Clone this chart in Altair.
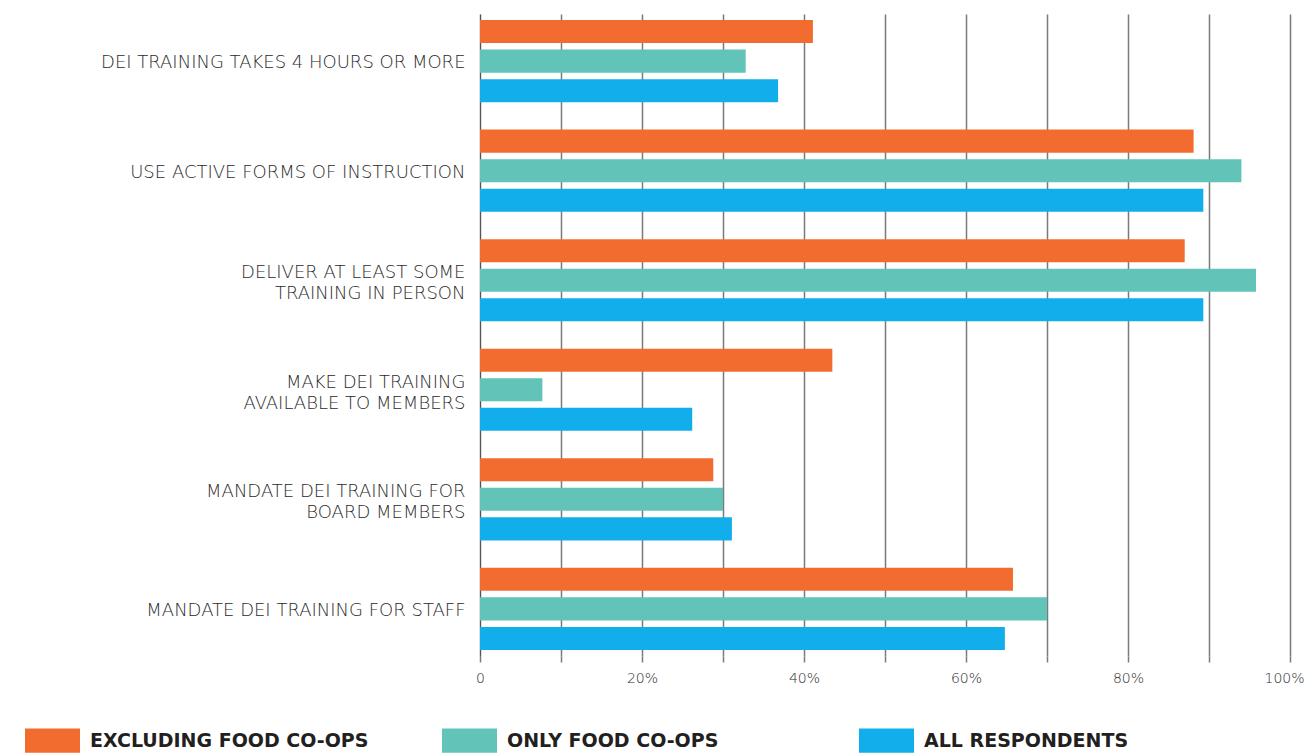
import altair as alt
import pandas as pd

categories = [
    "DEI TRAINING TAKES 4 HOURS OR MORE",
    "USE ACTIVE FORMS OF INSTRUCTION",
    "DELIVER AT LEAST SOME|TRAINING IN PERSON",
    "MAKE DEI TRAINING|AVAILABLE TO MEMBERS",
    "MANDATE DEI TRAINING FOR|BOARD MEMBERS",
    "MANDATE DEI TRAINING FOR STAFF",
]
series = ["EXCLUDING FOOD CO-OPS", "ONLY FOOD CO-OPS", "ALL RESPONDENTS"]
excluding_food = [41.1, 88.1, 87.0, 43.5, 28.8, 65.8]
only_food = [32.8, 94.0, 95.8, 7.7, 30.0, 70.0]
all_resp = [36.8, 89.3, 89.3, 26.2, 31.1, 64.8]
colors = ["#F26C30", "#62C3B9", "#12AEEC"]
x_ticks = [0, 10, 20, 30, 40, 50, 60, 70, 80, 90, 100]

rows = []
for s, vals in zip(series, [excluding_food, only_food, all_resp]):
    for c, v in zip(categories, vals):
        rows.append({"category": c, "series": s, "value": v})
df = pd.DataFrame(rows)

rect_path = "M-1,-0.44H1V0.44H-1Z"

chart = alt.Chart(df).mark_bar().encode(
    y=alt.Y(
        "category:N",
        sort=categories,
        title=None,
        scale=alt.Scale(paddingInner=0.25, paddingOuter=0.055),
        axis=alt.Axis(
            labelExpr="split(datum.label, '|')",
            labelOffset={"condition": {"test": "indexof(datum.value, '|') >= 0", "value": -7}, "value": 2},
            ticks=False,
            domain=True,
            domainColor="#555555",
            domainWidth=1,
            labelPadding=15,
            labelFont="DejaVu Sans",
            labelFontSize=18,
            labelFontWeight=300,
            labelColor="#2a2a2a",
            labelLineHeight=21,
            labelLimit=470,
        ),
    ),
    yOffset=alt.YOffset(
        "series:N",
        sort=series,
        scale=alt.Scale(paddingInner=0.22, paddingOuter=0),
    ),
    x=alt.X(
        "value:Q",
        title=None,
        scale=alt.Scale(domain=[0, 100], nice=False),
        axis=alt.Axis(
            values=x_ticks,
            labelExpr="datum.value % 20 == 0 ? (datum.value == 0 ? '0' : datum.value + '%') : ''",
            labelOffset={"condition": {"test": "datum.value == 100", "value": -6}, "value": 0},
            grid=True,
            gridColor="#7a7a7a",
            gridWidth=1.5,
            domain=False,
            ticks=True,
            tickSize=6,
            tickColor="#7a7a7a",
            tickWidth=1.5,
            labelPadding=9,
            labelFont="DejaVu Sans",
            labelFontSize=14,
            labelFontWeight=300,
            labelColor="#2a2a2a",
            labelFlush=False,
        ),
    ),
    color=alt.Color(
        "series:N",
        sort=series,
        scale=alt.Scale(domain=series, range=colors),
        legend=alt.Legend(
            title=None,
            orient="none",
            direction="horizontal",
            legendX=-455,
            legendY=699,
            symbolType=rect_path,
            symbolSize=3025,
            symbolStrokeWidth=0,
            symbolOpacity=1,
            labelOffset=10,
            columnPadding=73,
            gridAlign="all",
            padding=0,
            labelFont="DejaVu Sans",
            labelFontSize=19,
            labelFontWeight="bold",
            labelColor="#231F20",
            labelLimit=400,
        ),
    ),
).properties(
    width=810,
    height=642,
    autosize=alt.AutoSizeParams(type="none"),
    padding={"left": 472, "top": 6, "right": 15, "bottom": 97},
).configure_view(stroke=None)

chart.save("out.html", embed_options={"renderer": "svg", "actions": False})
